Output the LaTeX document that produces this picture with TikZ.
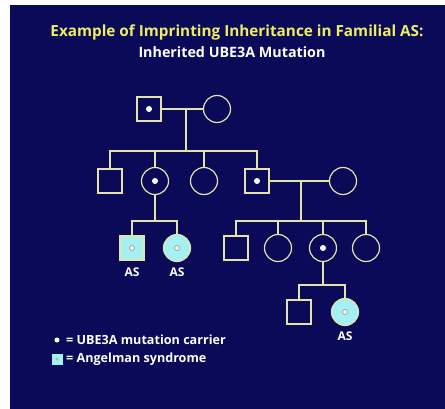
\documentclass[tikz,border=0pt]{standalone}
\usepackage{fontspec}
\setmainfont{Open Sans}
\usetikzlibrary{positioning, calc}

\definecolor{navy}{RGB}{10,10,88}
\definecolor{pale}{RGB}{228,228,170}
\definecolor{titleyellow}{RGB}{238,238,100}
\definecolor{affected}{RGB}{165,240,240}

\begin{document}
\begin{tikzpicture}[x=1pt, y=-1pt,
    line/.style={pale, line width=1.2pt},
    male/.style={draw=pale, line width=1.2pt, minimum size=24pt, inner sep=0pt},
    female/.style={circle, draw=pale, line width=1.2pt, minimum size=27pt, inner sep=0pt},
    carrier/.style={path picture={\fill[white] (path picture bounding box.center) circle (3pt);}},
    sick/.style={fill=affected, path picture={\draw[gray, fill=white, line width=0.5pt] (path picture bounding box.center) circle (2.5pt);}},
    aslabel/.style={text=white, font=\bfseries\fontsize{12}{13}\selectfont, inner sep=0pt}]

            % background
            \fill[white] (0,0) rectangle (445,409);
            \fill[navy] (10,5) rectangle (445,409);

            % title
            \node[text=titleyellow, font=\bfseries\fontsize{15.3}{17}\selectfont] (title) at (237,32)
                {Example of Imprinting Inheritance in Familial AS:};
            \node[text=white, font=\bfseries\fontsize{14.3}{16}\selectfont] (subtitle) at (232,52)
                {Inherited UBE3A Mutation};

            % generation I
            \node[male, carrier] (m1) at (149,109) {};
            \node[female] (f1) at (217,109) {};
            \coordinate (u1) at (186,109);
            \coordinate (s1) at (186,151);

            % generation II
            \node[male] (m2) at (110,181) {};
            \node[female, carrier] (f2) at (155,181) {};
            \node[female] (f3) at (204,181) {};
            \node[male, carrier] (m3) at (257,181) {};
            \node[female] (f4) at (343,181) {};
            \coordinate (u2) at (301,181);
            \coordinate (s2) at (301,221);
            \coordinate (s3) at (155,221);

            % generation III
            \node[male, sick] (m4) at (132,248) {};
            \node[female, sick] (f5) at (177,248) {};
            \node[male] (m5) at (236,248) {};
            \node[female] (f6) at (278,248) {};
            \node[female, carrier] (f7) at (323,248) {};
            \node[female] (f8) at (366,248) {};
            \coordinate (s4) at (323,285);

            % generation IV
            \node[male] (m6) at (299,312) {};
            \node[female, sick] (f9) at (345,312) {};

            % lines of descent
            \draw[line] (m1.east) -- (f1.west);
            \draw[line] (u1) -- (s1);
            \draw[line] (m2.north) |- (s1) -| (m3.north);
            \draw[line] (f2.north) -- (f2.north |- s1);
            \draw[line] (f3.north) -- (f3.north |- s1);
            \draw[line] (m3.east) -- (f4.west);
            \draw[line] (u2) -- (s2);
            \draw[line] (m5.north) |- (s2) -| (f8.north);
            \draw[line] (f6.north) -- (f6.north |- s2);
            \draw[line] (f7.north) -- (f7.north |- s2);
            \draw[line] (f2.south) -- (s3);
            \draw[line] (m4.north) |- (s3) -| (f5.north);
            \draw[line] (f7.south) -- (s4);
            \draw[line] (m6.north) |- (s4) -| (f9.north);

            % labels
            \node[aslabel, below=7pt of m4] (as1) {AS};
            \node[aslabel, below=6pt of f5] (as2) {AS};
            \node[aslabel, below=6pt of f9] (as3) {AS};

            % legend
            \node[circle, fill=white, inner sep=0pt, minimum size=5pt] (kdot) at (57,340) {};
            \node[draw=affected, fill=affected, inner sep=0pt, minimum size=10pt,
                path picture={\fill[gray!60] (path picture bounding box.center) circle (1.5pt);}] (kbox) at (57,359) {};
            \node[text=white, font=\bfseries\fontsize{12.6}{14}\selectfont, anchor=west, inner sep=0pt] (ktext1) at (66,340)
                {= UBE3A mutation carrier};
            \node[text=white, font=\bfseries\fontsize{12.6}{14}\selectfont, anchor=west, inner sep=0pt] (ktext2) at (66,359)
                {= Angelman syndrome};
        \end{tikzpicture}
\end{document}
